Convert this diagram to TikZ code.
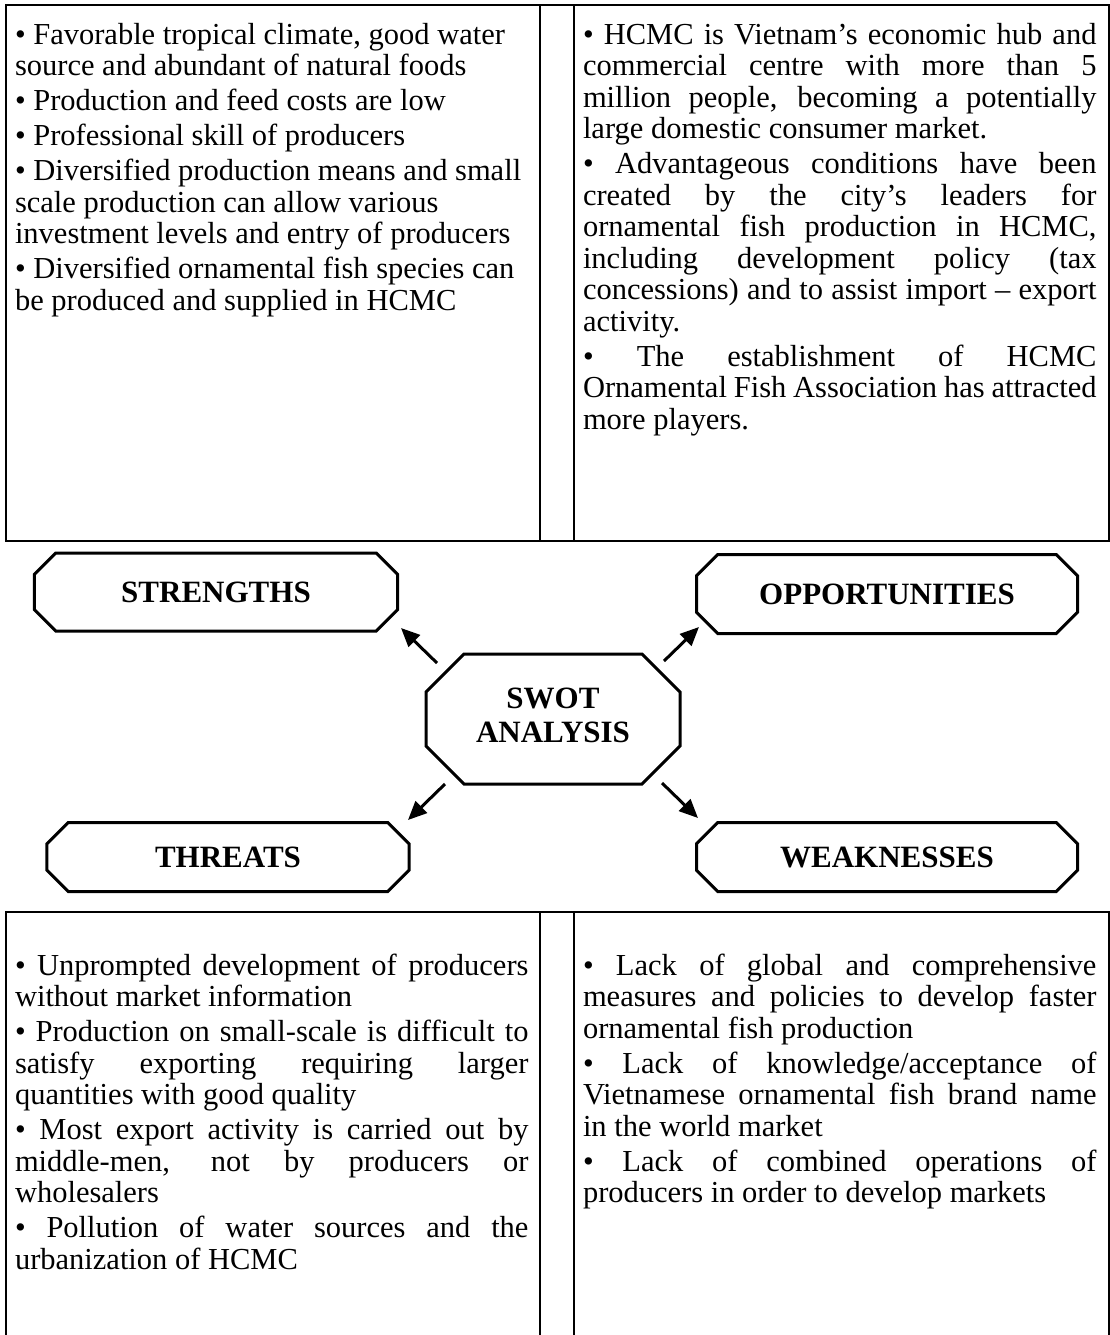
\documentclass[tikz,border=0pt]{standalone}
\usepackage{fontspec}
\setmainfont{Liberation Serif}
\usetikzlibrary{arrows.meta}
\newcommand\jst[1]{\hbox to\hsize{#1}}
\newcommand\lft[1]{\hbox{#1}}
\newcommand\pgap{\vskip1.4pt}
\newcommand\octagon[2]{\draw[oct] ([xshift=#2]#1.north west) -- ([xshift=-#2]#1.north east) -- ([yshift=-#2]#1.north east) -- ([yshift=#2]#1.south east) -- ([xshift=-#2]#1.south east) -- ([xshift=#2]#1.south west) -- ([yshift=#2]#1.south west) -- ([yshift=-#2]#1.north west) -- cycle;}
\begin{document}
\begin{tikzpicture}[x=0.4pt,y=-0.4pt,
  cell/.style={draw,line width=1pt},
  body/.style={anchor=base west,inner sep=0pt,outer sep=0pt,font=\fontsize{12.2}{12.6}\selectfont},
  lab/.style={draw=none,inner sep=0pt,outer sep=0pt,font=\fontsize{12.4}{13.4}\selectfont\bfseries,align=center},
  oct/.style={line width=1.2pt,line join=miter},
  arr/.style={line width=1.2pt,-{Triangle[length=7.5pt,width=6.5pt]}}]
\useasboundingbox (0,0) rectangle (1109,1335);
\fill[white] (0,0) rectangle (1109,1335);
% top table
\draw[cell] (6,5) rectangle (1109,541);
\draw[cell] (540,5) -- (540,541);
\draw[cell] (574,5) -- (574,541);
% bottom table
\draw[cell] (1109,1345) -- (1109,912) -- (6,912) -- (6,1345);
\draw[cell] (540,912) -- (540,1345);
\draw[cell] (574,912) -- (574,1345);
% labels
\node[lab,minimum width=145.2pt,minimum height=31.2pt] (str) at (216,592) {STRENGTHS};
\node[lab,minimum width=152.4pt,minimum height=31.6pt] (opp) at (887,594) {OPPORTUNITIES};
\node[lab,minimum width=144.8pt,minimum height=27.6pt] (thr) at (228,857) {\raisebox{-1.2pt}{THREATS}};
\node[lab,minimum width=152.4pt,minimum height=27.6pt] (wea) at (887,857) {\raisebox{-1.2pt}{WEAKNESSES}};
\node[lab,minimum width=101.6pt,minimum height=52pt] (swot) at (553,719) {\raisebox{2.6pt}{\begin{tabular}{@{}c@{}}SWOT\\ANALYSIS\end{tabular}}};
\octagon{str}{8.5pt}
\octagon{opp}{8.5pt}
\octagon{thr}{8.5pt}
\octagon{wea}{8.5pt}
\octagon{swot}{15.2pt}
% arrows
\coordinate (nwT) at (437,663); \coordinate (nwH) at (401,628);
\coordinate (neT) at (664,661); \coordinate (neH) at (699,627);
\coordinate (swT) at (445,784); \coordinate (swH) at (408,820);
\coordinate (seT) at (662,783); \coordinate (seH) at (698,818);
\draw[arr] (nwT) -- (nwH);
\draw[arr] (neT) -- (neH);
\draw[arr] (swT) -- (swH);
\draw[arr] (seT) -- (seH);
% texts
\node[body] (tl) at (15,44) {\vtop{\hsize=205.4pt
\lft{• Favorable tropical climate, good water}
\lft{source and abundant of natural foods}\pgap
\lft{• Production and feed costs are low}\pgap
\lft{• Professional skill of producers}\pgap
\lft{• Diversified production means and small}
\lft{scale production can allow various}
\lft{investment levels and entry of producers}\pgap
\lft{• Diversified ornamental fish species can}
\lft{be produced and supplied in HCMC}}};
\node[body] (tr) at (583,44) {\vtop{\hsize=205.4pt
\jst{• HCMC is Vietnam’s economic hub and}
\jst{commercial centre with more than 5}
\jst{million people, becoming a potentially}
\lft{large domestic consumer market.}\pgap
\jst{• Advantageous conditions have been}
\jst{created by the city’s leaders for}
\jst{ornamental fish production in HCMC,}
\jst{including development policy (tax}
\jst{concessions) and to assist import – export}
\lft{activity.}\pgap
\jst{• The establishment of HCMC}
\jst{Ornamental Fish Association has attracted}
\lft{more players.}}};
\node[body] (bl) at (15,975) {\vtop{\hsize=205.4pt
\jst{• Unprompted development of producers}
\lft{without market information}\pgap
\jst{• Production on small-scale is difficult to}
\jst{satisfy exporting requiring larger}
\lft{quantities with good quality}\pgap
\jst{• Most export activity is carried out by}
\jst{middle-men, not by producers or}
\lft{wholesalers}\pgap
\jst{• Pollution of water sources and the}
\lft{urbanization of HCMC}}};
\node[body] (br) at (583,975) {\vtop{\hsize=205.4pt
\jst{• Lack of global and comprehensive}
\jst{measures and policies to develop faster}
\lft{ornamental fish production}\pgap
\jst{• Lack of knowledge/acceptance of}
\jst{Vietnamese ornamental fish brand name}
\lft{in the world market}\pgap
\jst{• Lack of combined operations of}
\lft{producers in order to develop markets}}};
\end{tikzpicture}
\end{document}
